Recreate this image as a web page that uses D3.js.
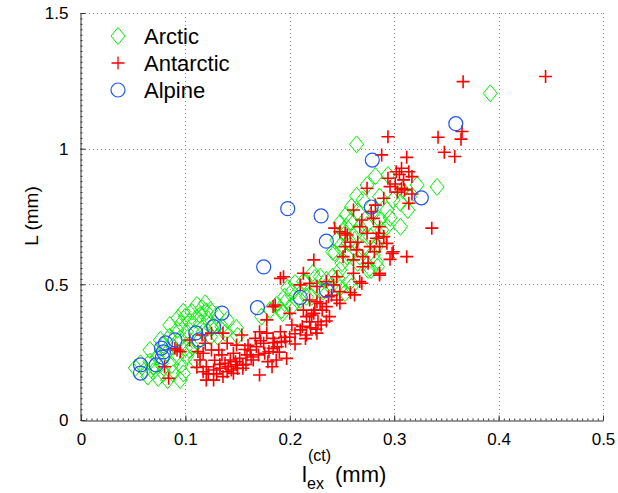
<!DOCTYPE html>
<html><head><meta charset="utf-8">
<script src="https://cdn.jsdelivr.net/npm/d3@7"></script>
<style>
body{margin:0;background:#fff;}
svg text{font-family:"Liberation Sans",Arial,Helvetica,sans-serif;fill:#000;}
</style></head>
<body><svg id="c" width="618" height="493"></svg>
<script>
const xTicks=[0,0.1,0.2,0.3,0.4,0.5];
const yTicks=[0,0.5,1,1.5];
const xTickLabels=["0","0.1","0.2","0.3","0.4","0.5"];
const yTickLabels=["0","0.5","1","1.5"];
const seriesNames=["Arctic","Antarctic","Alpine"];

const arctic=[
[0.392,1.204],[0.264,1.016],[0.341,0.859],[0.282,0.899],[0.294,0.903],[0.274,0.866],[0.322,0.866],[0.308,0.848],
[0.264,0.826],[0.270,0.811],[0.286,0.823],[0.299,0.811],[0.259,0.786],[0.280,0.763],[0.293,0.774],[0.306,0.800],
[0.315,0.823],[0.254,0.756],[0.265,0.768],[0.286,0.737],[0.296,0.745],[0.248,0.726],[0.258,0.731],[0.274,0.719],
[0.288,0.700],[0.251,0.694],[0.264,0.689],[0.277,0.676],[0.245,0.663],[0.256,0.652],[0.270,0.634],[0.241,0.620],
[0.280,0.608],[0.283,0.583],[0.255,0.602],[0.267,0.602],[0.278,0.553],[0.250,0.578],[0.267,0.712],[0.293,0.712],
[0.262,0.663],[0.286,0.663],[0.248,0.639],[0.258,0.616],[0.283,0.639],[0.243,0.616],[0.265,0.579],[0.284,0.565],
[0.275,0.553],[0.248,0.553],[0.235,0.516],[0.246,0.523],[0.258,0.510],[0.224,0.523],[0.215,0.505],[0.205,0.505],
[0.202,0.473],[0.195,0.454],[0.226,0.487],[0.221,0.454],[0.210,0.442],[0.195,0.431],[0.232,0.473],[0.248,0.487],
[0.253,0.468],[0.192,0.405],[0.222,0.542],[0.229,0.528],[0.213,0.510],[0.198,0.487],[0.207,0.442],[0.216,0.454],
[0.239,0.491],[0.241,0.528],[0.259,0.491],[0.187,0.424],[0.181,0.405],[0.202,0.418],[0.193,0.394],[0.173,0.381],
[0.149,0.339],[0.313,0.774],[0.306,0.712],[0.254,0.712],
[0.111,0.424],[0.119,0.430],[0.124,0.405],[0.114,0.387],[0.106,0.399],[0.100,0.381],[0.096,0.356],[0.104,0.362],
[0.114,0.356],[0.122,0.369],[0.130,0.387],[0.128,0.356],[0.135,0.344],[0.140,0.369],[0.092,0.332],[0.101,0.325],
[0.085,0.307],[0.095,0.301],[0.102,0.302],[0.117,0.325],[0.124,0.307],[0.131,0.307],[0.079,0.276],[0.088,0.270],
[0.100,0.265],[0.107,0.270],[0.082,0.247],[0.092,0.233],[0.101,0.233],[0.073,0.233],[0.066,0.215],[0.077,0.209],
[0.087,0.203],[0.096,0.203],[0.057,0.209],[0.061,0.184],[0.069,0.178],[0.079,0.172],[0.088,0.172],[0.098,0.172],
[0.052,0.192],[0.074,0.155],[0.083,0.147],[0.095,0.147],[0.069,0.196],[0.064,0.160],[0.098,0.399],[0.116,0.412],
[0.120,0.399],[0.109,0.221],[0.104,0.258],[0.112,0.288],[0.076,0.295],[0.066,0.258],[0.085,0.350],[0.093,0.376],
[0.125,0.339],[0.138,0.321],[0.150,0.310],[0.109,0.369]
];

const antarctic=[
[0.366,1.247],[0.445,1.266],[0.294,1.044],[0.342,1.042],[0.365,1.063],[0.364,1.035],[0.348,0.987],[0.358,0.971],
[0.288,0.977],[0.312,0.968],[0.307,0.928],[0.314,0.915],[0.302,0.915],[0.317,0.897],[0.294,0.891],[0.309,0.885],
[0.274,0.854],[0.307,0.854],[0.310,0.848],[0.317,0.833],[0.290,0.817],[0.314,0.799],[0.282,0.792],[0.261,0.774],
[0.278,0.768],[0.280,0.743],[0.269,0.737],[0.336,0.707],[0.243,0.707],[0.286,0.712],[0.267,0.712],[0.253,0.688],
[0.285,0.688],[0.248,0.694],[0.255,0.682],[0.274,0.688],[0.283,0.670],[0.290,0.676],[0.293,0.651],[0.253,0.639],
[0.264,0.627],[0.277,0.639],[0.286,0.639],[0.299,0.620],[0.298,0.614],[0.312,0.602],[0.251,0.602],[0.261,0.590],
[0.270,0.602],[0.275,0.578],[0.270,0.565],[0.286,0.541],[0.286,0.534],[0.269,0.504],[0.223,0.590],[0.213,0.541],
[0.191,0.522],[0.194,0.528],[0.210,0.498],[0.219,0.504],[0.226,0.492],[0.235,0.510],[0.242,0.498],[0.245,0.528],
[0.261,0.541],[0.267,0.510],[0.262,0.461],[0.248,0.473],[0.245,0.442],[0.237,0.454],[0.229,0.430],[0.224,0.405],
[0.235,0.418],[0.219,0.442],[0.216,0.381],[0.186,0.424],[0.248,0.430],[0.226,0.436],[0.231,0.405],[0.221,0.387],
[0.238,0.381],[0.240,0.460],[0.258,0.470],[0.296,0.860],[0.301,0.870],[0.303,0.840],[0.305,0.905],[0.296,0.592],
[0.281,0.620],[0.258,0.655],[0.265,0.655],
[0.202,0.350],[0.210,0.332],[0.219,0.362],[0.216,0.313],[0.226,0.320],[0.191,0.325],[0.192,0.288],[0.184,0.301],
[0.178,0.320],[0.171,0.325],[0.167,0.301],[0.175,0.283],[0.184,0.264],[0.168,0.270],[0.162,0.258],[0.159,0.240],
[0.176,0.246],[0.187,0.221],[0.179,0.215],[0.165,0.221],[0.152,0.227],[0.146,0.246],[0.143,0.221],[0.141,0.196],
[0.133,0.191],[0.127,0.184],[0.120,0.196],[0.149,0.203],[0.155,0.191],[0.136,0.160],[0.127,0.147],[0.117,0.178],
[0.146,0.172],[0.171,0.166],[0.183,0.196],[0.197,0.227],[0.117,0.246],[0.125,0.258],[0.132,0.258],[0.140,0.283],
[0.148,0.215],[0.178,0.369],[0.200,0.393],[0.213,0.405],[0.223,0.393],[0.227,0.362],
[0.084,0.154],[0.080,0.196],[0.090,0.264],[0.095,0.252],[0.104,0.295],[0.112,0.252],[0.116,0.313],[0.125,0.320],
[0.136,0.320],[0.114,0.221],[0.111,0.194],[0.138,0.209],[0.144,0.184],[0.155,0.203],[0.149,0.276],[0.154,0.313],
[0.184,0.418],[0.120,0.147],[0.119,0.283],[0.092,0.258],
[0.130,0.170],[0.140,0.178],[0.150,0.190],[0.158,0.205],[0.163,0.232],[0.170,0.240],[0.180,0.252],[0.188,0.270],
[0.196,0.290],[0.200,0.305],[0.205,0.318],[0.212,0.345],[0.220,0.340],[0.230,0.350],[0.235,0.365],[0.195,0.305],
[0.185,0.285],[0.172,0.292],[0.160,0.275],[0.157,0.260],[0.135,0.240],[0.128,0.220],[0.122,0.170],[0.133,0.205],
[0.190,0.250],[0.205,0.280],[0.215,0.300],[0.225,0.335]
];

const alpine=[
[0.359,1.092],[0.279,0.958],[0.198,0.779],[0.230,0.752],[0.235,0.659],[0.175,0.564],[0.326,0.819],[0.278,0.785],
[0.169,0.414],[0.210,0.452],[0.235,0.478],[0.135,0.394],[0.127,0.344],[0.110,0.321],[0.113,0.295],[0.090,0.295],
[0.081,0.284],[0.077,0.265],[0.079,0.251],[0.078,0.232],[0.072,0.203],[0.057,0.203],[0.057,0.173]
];

const colors={Arctic:"#00f000",Antarctic:"#ff0000",Alpine:"#2255ee"};

const svg=d3.select("#c");
const x=d3.scaleLinear().domain([0,0.5]).range([81,603]);
const y=d3.scaleLinear().domain([0,1.5]).range([420,13]);

// grid
const grid=svg.append("g").attr("stroke","#8a8a8a").attr("stroke-width",1).attr("stroke-dasharray","1,3");
grid.selectAll(".gx").data(xTicks.filter(d=>d>0)).join("line")
 .attr("x1",d=>Math.round(x(d))+0.5).attr("x2",d=>Math.round(x(d))+0.5).attr("y1",y(1.5)).attr("y2",y(0));
grid.selectAll(".gy").data(yTicks.filter(d=>d>0)).join("line")
 .attr("y1",d=>Math.round(y(d))+0.5).attr("y2",d=>Math.round(y(d))+0.5).attr("x1",x(0)).attr("x2",x(0.5));

// markers
const diamond=(cx,cy)=>`M${cx},${cy-8.5}L${cx+7},${cy}L${cx},${cy+8.5}L${cx-7},${cy}Z`;
const plus=(cx,cy)=>`M${cx-6.5},${cy}H${cx+6.5}M${cx},${cy-6.5}V${cy+6.5}`;

svg.append("g").selectAll("path").data(arctic).join("path")
 .attr("d",d=>diamond(x(d[0]),y(d[1]))).attr("fill","none").attr("stroke",colors.Arctic).attr("stroke-width",1);
svg.append("g").selectAll("path").data(antarctic).join("path")
 .attr("d",d=>plus(x(d[0]),y(d[1]))).attr("fill","none").attr("stroke",colors.Antarctic).attr("stroke-width",1.6);
svg.append("g").selectAll("circle").data(alpine).join("circle")
 .attr("cx",d=>x(d[0])).attr("cy",d=>y(d[1])).attr("r",7).attr("fill","none").attr("stroke",colors.Alpine).attr("stroke-width",1.2);

// axes
const xAxis=d3.axisBottom(x).tickValues(xTicks).tickFormat((d,i)=>xTickLabels[i]).tickSizeInner(-5).tickSizeOuter(0).tickPadding(12);
const gx=svg.append("g").attr("transform","translate(0,420.5)").call(xAxis);
const yAxis=d3.axisLeft(y).tickValues(yTicks).tickFormat((d,i)=>yTickLabels[i]).tickSizeInner(-5).tickSizeOuter(0).tickPadding(12);
const gy=svg.append("g").attr("transform","translate(80.5,0)").call(yAxis);
const xMinor=d3.axisBottom(x).tickValues(d3.range(0,0.5001,0.005)).tickFormat("").tickSizeInner(-2).tickSizeOuter(0);
svg.append("g").attr("transform","translate(0,420.5)").call(xMinor).call(g=>g.select(".domain").remove());
const yMinor=d3.axisLeft(y).tickValues(d3.range(0,1.5001,0.02)).tickFormat("").tickSizeInner(-2).tickSizeOuter(0);
svg.append("g").attr("transform","translate(80.5,0)").call(yMinor).call(g=>g.select(".domain").remove());
svg.selectAll(".domain").attr("stroke","#333");
svg.selectAll(".tick line").attr("stroke","#333");
gx.selectAll("text").attr("font-size",17).attr("font-family","Liberation Sans, Arial, sans-serif");
gy.selectAll("text").attr("font-size",17).attr("font-family","Liberation Sans, Arial, sans-serif").attr("dy","0.35em");

// axis labels
svg.append("text").attr("transform","translate(38,216) rotate(-90)").attr("text-anchor","middle").attr("font-size",19).text("L (mm)");
const xl=svg.append("g");
xl.append("text").attr("x",302).attr("y",482).attr("font-size",22).text("l");
xl.append("text").attr("x",308).attr("y",461).attr("font-size",16).text("(ct)");
xl.append("text").attr("x",307).attr("y",489).attr("font-size",16).text("ex");
xl.append("text").attr("x",335).attr("y",482).attr("font-size",22).text("(mm)");

// legend
const leg=svg.append("g");
const legRows=[{n:seriesNames[0],yy:36},{n:seriesNames[1],yy:63},{n:seriesNames[2],yy:90}];
legRows.forEach((r,i)=>{
  if(i===0) leg.append("path").attr("d",diamond(118,r.yy)).attr("fill","none").attr("stroke",colors.Arctic);
  if(i===1) leg.append("path").attr("d",plus(118,r.yy)).attr("fill","none").attr("stroke",colors.Antarctic).attr("stroke-width",1.3);
  if(i===2) leg.append("circle").attr("cx",118).attr("cy",r.yy).attr("r",7).attr("fill","none").attr("stroke",colors.Alpine).attr("stroke-width",1.2);
  leg.append("text").attr("x",144).attr("y",r.yy).attr("dy","0.36em").attr("font-size",22).text(r.n);
});
</script></body></html>
